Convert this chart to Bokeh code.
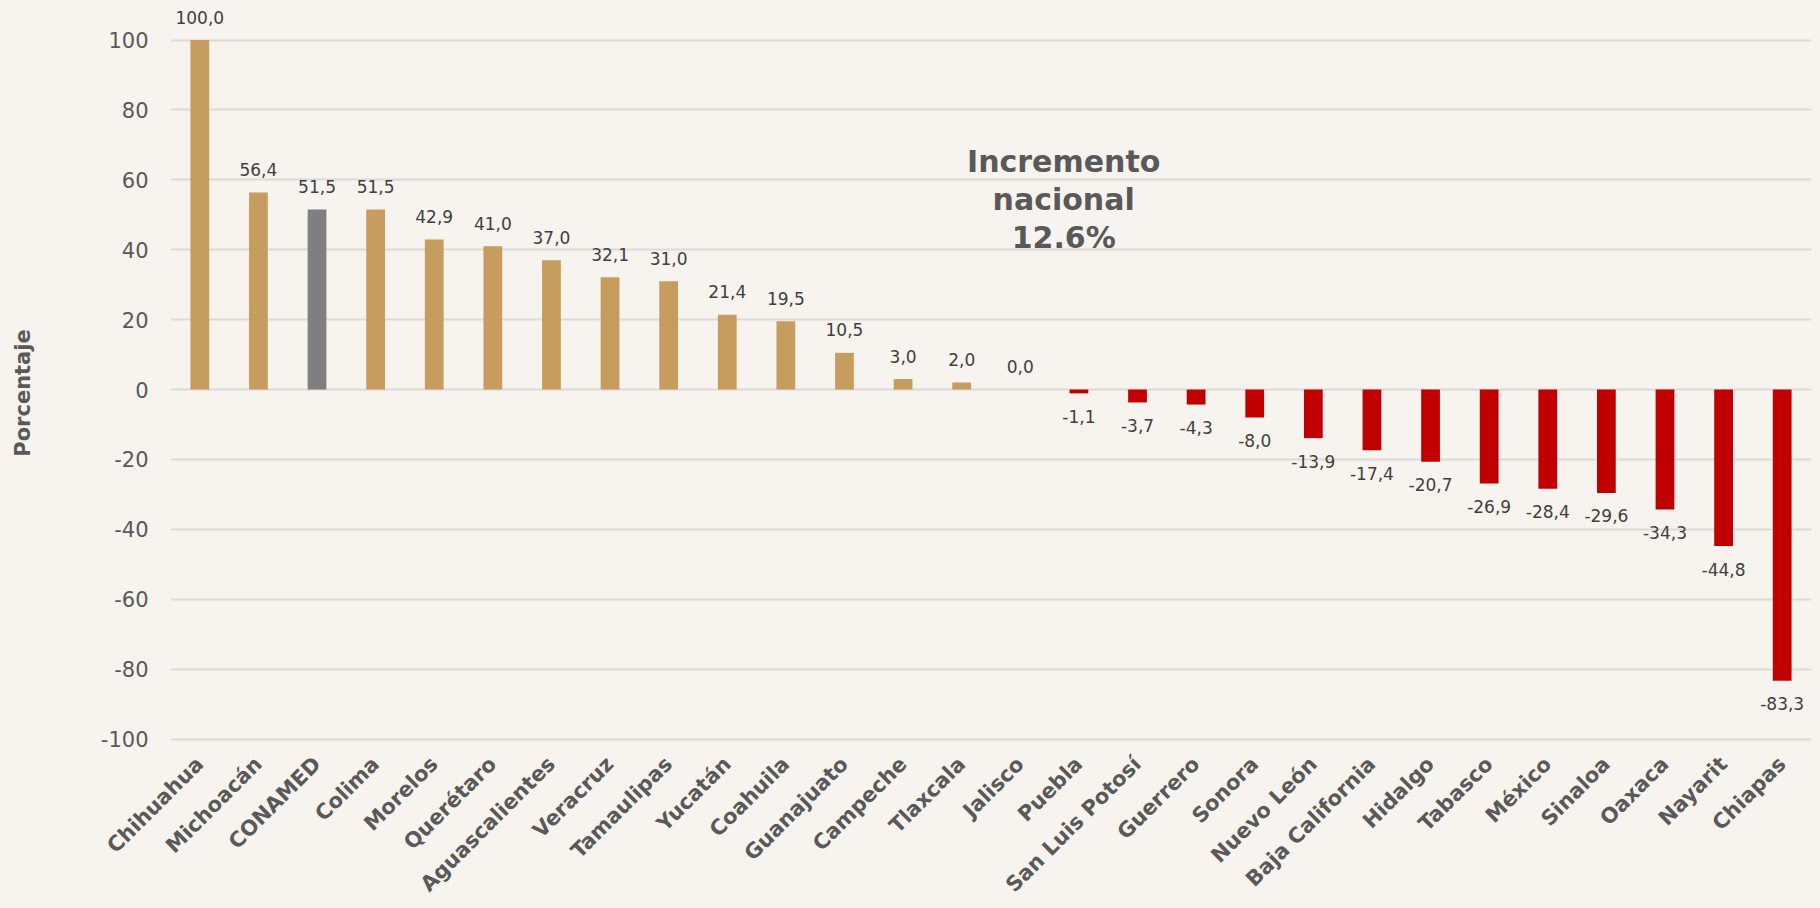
import math
from bokeh.plotting import figure
from bokeh.models import (ColumnDataSource, FactorRange, Range1d, FixedTicker, Label,
                          PrintfTickFormatter)
from bokeh.core.properties import value
from bokeh.embed import file_html
from bokeh.resources import INLINE

# ---------------- data ----------------
estados = ["Chihuahua", "Michoacán", "CONAMED", "Colima", "Morelos", "Querétaro",
           "Aguascalientes", "Veracruz", "Tamaulipas", "Yucatán", "Coahuila",
           "Guanajuato", "Campeche", "Tlaxcala", "Jalisco", "Puebla",
           "San Luis Potosí", "Guerrero", "Sonora", "Nuevo León", "Baja California",
           "Hidalgo", "Tabasco", "México", "Sinaloa", "Oaxaca", "Nayarit", "Chiapas"]
valores = [100.0, 56.4, 51.5, 51.5, 42.9, 41.0, 37.0, 32.1, 31.0, 21.4, 19.5,
           10.5, 3.0, 2.0, 0.0, -1.1, -3.7, -4.3, -8.0, -13.9, -17.4, -20.7,
           -26.9, -28.4, -29.6, -34.3, -44.8, -83.3]
destacado = "CONAMED"
y_ticks = [-100, -80, -60, -40, -20, 0, 20, 40, 60, 80, 100]
nota = ["Incremento", "nacional", "12.6%"]
eje_y = "Porcentaje"

# ---------------- styles ----------------
BG = "#F7F3EE"
TAN = "#C69C5F"
GRAY = "#7F7F7F"
RED = "#C00000"
TXT = "#595959"
LBL = "#404040"
FONT = "DejaVu Sans"

colores = [GRAY if e == destacado else (TAN if v >= 0 else RED)
           for e, v in zip(estados, valores)]
etiquetas = [f"{v:.1f}".replace(".", ",") for v in valores]
offs = [-23 if v >= 0 else 23 for v in valores]

src = ColumnDataSource(dict(estado=estados, valor=valores, color=colores,
                            etiqueta=etiquetas, off=offs))

Y_MAX = 111.31
Y_MIN = -113.3

p = figure(x_range=FactorRange(factors=estados, range_padding=0),
           y_range=Range1d(Y_MIN, Y_MAX),
           width=1820, height=908, output_backend="svg", toolbar_location=None,
           min_border_left=170, min_border_right=9, min_border_top=0, min_border_bottom=100,
           background_fill_color=BG, border_fill_color=BG, outline_line_color=None)

# y axis
p.yaxis.ticker = FixedTicker(ticks=y_ticks)
p.yaxis.formatter = PrintfTickFormatter(format="%d")
p.yaxis.axis_line_color = None
p.yaxis.major_tick_line_color = None
p.yaxis.minor_tick_line_color = None
p.yaxis.major_tick_out = 0
p.yaxis.major_tick_in = 0
p.yaxis.major_label_standoff = 22
p.yaxis.major_label_text_font = FONT
p.yaxis.major_label_text_font_size = "21px"
p.yaxis.major_label_text_color = TXT
p.yaxis.axis_label = eje_y
p.yaxis.axis_label_standoff = 63
p.yaxis.axis_label_text_font = FONT
p.yaxis.axis_label_text_font_size = "21px"
p.yaxis.axis_label_text_font_style = "bold"
p.yaxis.axis_label_text_color = TXT

# x axis
p.xaxis.major_label_orientation = math.pi / 4
p.xaxis.major_label_standoff = -25
p.xaxis.axis_line_color = None
p.xaxis.major_tick_line_color = None
p.xaxis.minor_tick_line_color = None
p.xaxis.major_tick_out = 0
p.xaxis.major_tick_in = 0
p.xaxis.major_label_text_font = FONT
p.xaxis.major_label_text_font_size = "21px"
p.xaxis.major_label_text_font_style = "bold"
p.xaxis.major_label_text_color = TXT

p.xgrid.visible = False
p.ygrid.grid_line_color = "#DCDAD7"
p.ygrid.grid_line_width = 2

p.vbar(x="estado", top="valor", width=0.32, source=src,
       fill_color="color", line_color=None)

p.text(x="estado", y="valor", text="etiqueta", y_offset="off", source=src,
       text_align="center", text_baseline="alphabetic",
       text_font=value(FONT), text_font_size="17px", text_color=LBL)

# annotation "Incremento nacional 12.6%"
for linea, yy in zip(nota, [65.35, 54.47, 43.59]):
    p.add_layout(Label(x=15.24, y=yy, text=linea, text_align="center",
                       text_baseline="middle", text_font=FONT,
                       text_font_size="30px", text_font_style="bold",
                       text_color=TXT))

try:
    from bokeh.models import GlobalInlineStyleSheet
    p.stylesheets = [GlobalInlineStyleSheet(css=f"body {{ background-color: {BG}; }}")]
except Exception:
    pass

open("out.html", "w").write(file_html(p, INLINE))
